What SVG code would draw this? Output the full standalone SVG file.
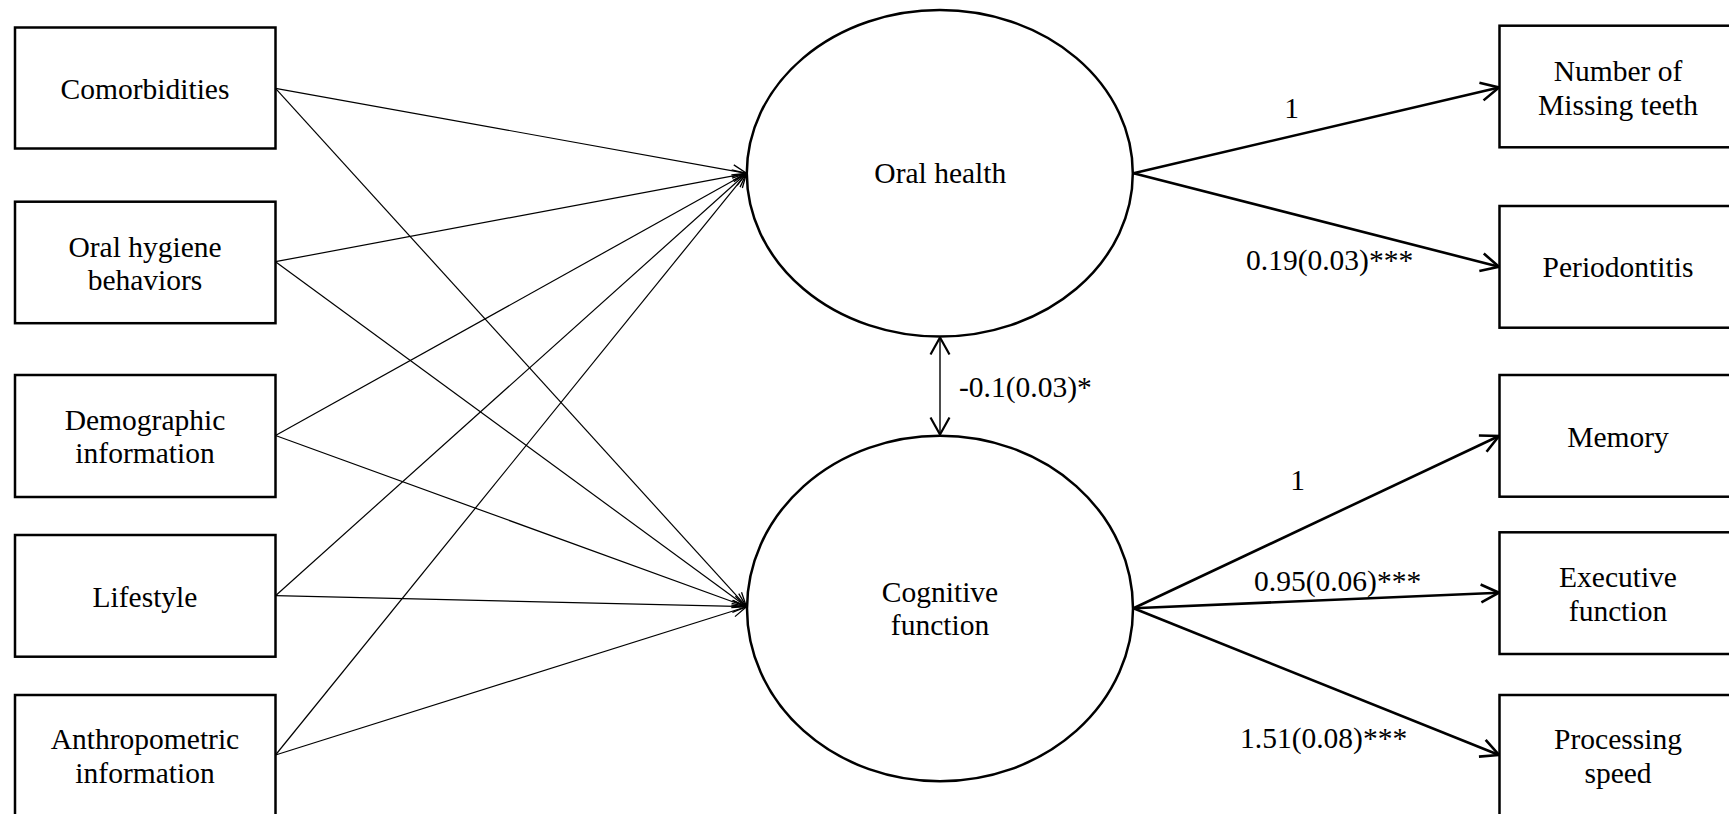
<svg xmlns="http://www.w3.org/2000/svg" width="1729" height="814" viewBox="0 0 1729 814">
<style>
  .box { fill: #fff; stroke: #000; stroke-width: 2.5; }
  .ell { fill: #fff; stroke: #000; stroke-width: 2.5; }
  .t { font-family: "Liberation Serif", "Times New Roman", serif; font-size: 29.5px; fill: #000; }
  .c { text-anchor: middle; }
  .thin { stroke: #000; stroke-width: 1.2; fill: none; marker-end: url(#hThin); }
  .thick { stroke: #000; stroke-width: 2.6; fill: none; marker-end: url(#hThick); }
  .dbl { stroke: #000; stroke-width: 1.4; fill: none; marker-start: url(#hDblS); marker-end: url(#hDbl); }
</style>
<defs>
  <marker id="hThin" markerUnits="userSpaceOnUse" orient="auto" markerWidth="30" markerHeight="30" viewBox="-20 -15 30 30" refX="0" refY="0" overflow="visible">
    <path d="M-14,-6 L0,0 L-14,6" fill="none" stroke="#000" stroke-width="1.3"/>
  </marker>
  <marker id="hThick" markerUnits="userSpaceOnUse" orient="auto" markerWidth="30" markerHeight="30" viewBox="-20 -15 30 30" refX="0" refY="0" overflow="visible">
    <path d="M-18,-9 L0,0 L-18,9" fill="none" stroke="#000" stroke-width="2.6"/>
  </marker>
  <marker id="hDbl" markerUnits="userSpaceOnUse" orient="auto" markerWidth="30" markerHeight="30" viewBox="-20 -15 30 30" refX="0" refY="0" overflow="visible">
    <path d="M-17,-9.5 L0,0 L-17,9.5" fill="none" stroke="#000" stroke-width="2.2"/>
  </marker>
  <marker id="hDblS" markerUnits="userSpaceOnUse" orient="auto-start-reverse" markerWidth="30" markerHeight="30" viewBox="-20 -15 30 30" refX="0" refY="0" overflow="visible">
    <path d="M-17,-9.5 L0,0 L-17,9.5" fill="none" stroke="#000" stroke-width="2.2"/>
  </marker>
</defs>
<rect x="0" y="0" width="1729" height="814" fill="#fff"/>

<g id="connectors">
  <line class="thin" x1="275.5" y1="88.3" x2="746.5" y2="173.3"/>
  <line class="thin" x1="275.5" y1="88.3" x2="746.5" y2="606.7"/>
  <line class="thin" x1="275.5" y1="261.7" x2="746.5" y2="173.3"/>
  <line class="thin" x1="275.5" y1="261.7" x2="746.5" y2="606.7"/>
  <line class="thin" x1="275.5" y1="435.5" x2="746.5" y2="173.3"/>
  <line class="thin" x1="275.5" y1="435.5" x2="746.5" y2="606.7"/>
  <line class="thin" x1="275.5" y1="595.7" x2="746.5" y2="173.3"/>
  <line class="thin" x1="275.5" y1="595.7" x2="746.5" y2="606.7"/>
  <line class="thin" x1="275.5" y1="755" x2="746.5" y2="173.3"/>
  <line class="thin" x1="275.5" y1="755" x2="746.5" y2="606.7"/>

  <line class="thick" x1="1133.5" y1="173.3" x2="1499" y2="87.5"/>
  <line class="thick" x1="1133.5" y1="173.3" x2="1499" y2="266.7"/>
  <line class="thick" x1="1133.5" y1="608.3" x2="1499" y2="436"/>
  <line class="thick" x1="1133.5" y1="608.3" x2="1499" y2="592.7"/>
  <line class="thick" x1="1133.5" y1="608.3" x2="1499" y2="755"/>

  <line class="dbl" x1="940" y1="337.5" x2="940" y2="434.5"/>

  <text class="t c" x="1291.5" y="118.3">1</text>
  <text class="t" x="1246" y="270">0.19(0.03)***</text>
  <text class="t c" x="1297.5" y="490">1</text>
  <text class="t" x="1254" y="590.7">0.95(0.06)***</text>
  <text class="t" x="1240" y="748.3">1.51(0.08)***</text>
  <text class="t" x="959" y="396.7">-0.1(0.03)*</text>
</g>

<g id="n-comorbidities">
  <rect class="box" x="15" y="27.5" width="260.5" height="121"/>
  <text class="t c" x="145" y="99">Comorbidities</text>
</g>
<g id="n-oral-hygiene">
  <rect class="box" x="15" y="201.7" width="260.5" height="121.5"/>
  <text class="t c" x="145" y="257.3">Oral hygiene</text>
  <text class="t c" x="145" y="290.3">behaviors</text>
</g>
<g id="n-demographic">
  <rect class="box" x="15" y="375" width="260.5" height="122"/>
  <text class="t c" x="145" y="430">Demographic</text>
  <text class="t c" x="145" y="463.3">information</text>
</g>
<g id="n-lifestyle">
  <rect class="box" x="15" y="535" width="260.5" height="121.7"/>
  <text class="t c" x="145" y="606.7">Lifestyle</text>
</g>
<g id="n-anthropometric">
  <rect class="box" x="15" y="695" width="260.5" height="122"/>
  <text class="t c" x="145" y="749.3">Anthropometric</text>
  <text class="t c" x="145" y="782.7">information</text>
</g>

<g id="n-oral-health">
  <ellipse class="ell" cx="939.8" cy="173.3" rx="193" ry="163.3"/>
  <text class="t c" x="940.3" y="183.3">Oral health</text>
</g>
<g id="n-cognitive">
  <ellipse class="ell" cx="940" cy="608.5" rx="193" ry="172.8"/>
  <text class="t c" x="940" y="602.3">Cognitive</text>
  <text class="t c" x="940" y="634.7">function</text>
</g>

<g id="n-missing-teeth">
  <rect class="box" x="1499.5" y="25.7" width="238" height="121.6"/>
  <text class="t c" x="1618" y="80.5">Number of</text>
  <text class="t c" x="1618" y="114.5">Missing teeth</text>
</g>
<g id="n-periodontitis">
  <rect class="box" x="1499.5" y="206" width="238" height="121.7"/>
  <text class="t c" x="1618" y="277.3">Periodontitis</text>
</g>
<g id="n-memory">
  <rect class="box" x="1499.5" y="375" width="238" height="121.7"/>
  <text class="t c" x="1618" y="446.7">Memory</text>
</g>
<g id="n-executive">
  <rect class="box" x="1499.5" y="532.3" width="238" height="121.7"/>
  <text class="t c" x="1618" y="586.7">Executive</text>
  <text class="t c" x="1618" y="620.7">function</text>
</g>
<g id="n-processing">
  <rect class="box" x="1499.5" y="695" width="238" height="122"/>
  <text class="t c" x="1618" y="749.3">Processing</text>
  <text class="t c" x="1618" y="783.3">speed</text>
</g>
</svg>
